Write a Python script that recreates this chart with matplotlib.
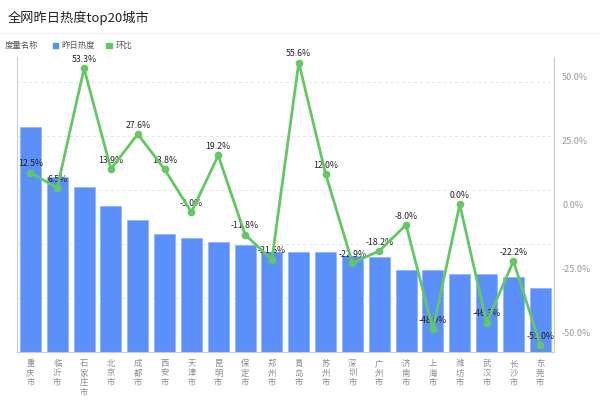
import matplotlib.pyplot as plt
from matplotlib.ticker import FuncFormatter

plt.rcParams['font.family'] = ['Noto Sans CJK SC', 'DejaVu Sans']

cities = ["重庆市", "临沂市", "石家庄市", "北京市", "成都市", "西安市", "天津市", "昆明市",
          "保定市", "郑州市", "青岛市", "苏州市", "深圳市", "广州市", "济南市", "上海市",
          "潍坊市", "武汉市", "长沙市", "东莞市"]
heat = [4.17, 3.24, 3.06, 2.70, 2.44, 2.19, 2.11, 2.04, 1.98, 1.85,
        1.85, 1.85, 1.78, 1.76, 1.52, 1.52, 1.44, 1.44, 1.39, 1.19]
ratio = [12.5, 6.5, 53.3, 13.9, 27.6, 13.8, -3.0, 19.2, -11.8, -21.6,
         55.6, 12.0, -22.9, -18.2, -8.0, -48.9, 0.0, -46.3, -22.2, -55.0]

blue = "#5B8FF9"
green = "#62C962"

fig = plt.figure(figsize=(6, 4.03), dpi=100)
ax = fig.add_axes([0.0283, 0.1266, 0.8945, 0.732])

x = range(len(cities))
ax.bar(x, heat, width=0.78, color=blue, edgecolor="#8fb2fb", linewidth=0.5, zorder=2)
ax.set_xlim(-0.5, len(cities) - 0.5)
ax.set_ylim(0, 5.46)
ax.set_yticks([1, 2, 3, 4, 5])
ax.yaxis.grid(True, linestyle=(0, (3, 3)), color="#e6e6e6", linewidth=0.7)
ax.set_axisbelow(True)
ax.set_xticks(list(x))
ax.set_xticklabels(["\n".join(c) for c in cities], fontsize=6, color="#8c8c8c", linespacing=1.08)
ax.tick_params(axis="x", length=0, pad=5)
ax.spines["top"].set_visible(False)
for s in ["left", "right", "bottom"]:
    ax.spines[s].set_color("#cccccc")
    ax.spines[s].set_linewidth(0.8)

ax2 = ax.twinx()
ax.tick_params(axis="y", left=False, right=False, labelleft=False, labelright=False)
ax2.plot(list(x), ratio, color=green, linewidth=2, marker="o", markersize=4.5, zorder=5)
for i, v in enumerate(ratio):
    ax2.annotate(f"{v:.1f}%", (i, v), xytext=(0, 3), textcoords="offset points",
                 ha="center", va="bottom", fontsize=6.3, color="#222222")
ax2.set_ylim(-57.8, 57.8)
ax2.set_yticks([-50, -25, 0, 25, 50])
ax2.yaxis.set_major_formatter(FuncFormatter(lambda v, p: f"{v:.1f}%"))
ax2.tick_params(axis="y", length=0, labelsize=6.5, labelcolor="#999999", pad=6)
for s in ["top", "left", "bottom"]:
    ax2.spines[s].set_visible(False)
ax2.spines["right"].set_color("#cccccc")
ax2.spines["right"].set_linewidth(0.8)

# title and legend
fig.text(0.012, 0.955, "全网昨日热度top20城市", fontsize=9.5, color="#222222", va="center")
fig.add_artist(plt.Line2D([0, 1], [0.918, 0.918], color="#f0f0f0", linewidth=0.8))
fig.text(0.008, 0.888, "度量名称", fontsize=6, color="#555555", va="center")
fig.add_artist(plt.Rectangle((0.088, 0.881), 0.009, 0.0135, color=blue, transform=fig.transFigure))
fig.text(0.103, 0.888, "昨日热度", fontsize=6, color="#555555", va="center")
fig.add_artist(plt.Rectangle((0.177, 0.881), 0.009, 0.0135, color=green, transform=fig.transFigure))
fig.text(0.192, 0.888, "环比", fontsize=6, color="#555555", va="center")

fig.savefig("out.png", dpi=100)
